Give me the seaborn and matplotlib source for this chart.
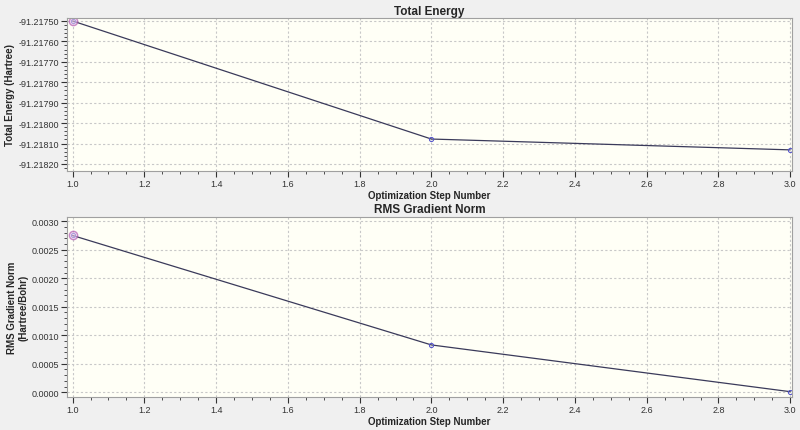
import matplotlib
matplotlib.use("Agg")
import matplotlib.pyplot as plt
import seaborn as sns
import pandas as pd
from matplotlib.ticker import MultipleLocator, FormatStrFormatter

steps = [1.0, 2.0, 3.0]
energy = [-91.21750, -91.218078, -91.218131]
rms_grad = [0.00275, 0.00083, 0.00001]

sns.set_style("white")
plt.rcParams['font.family'] = ['Liberation Sans', 'DejaVu Sans']

fig = plt.figure(figsize=(8, 4.31), dpi=100, facecolor="#f0f0f0")
ax1 = fig.add_axes([0.084, 0.601, 0.906, 0.355])
ax2 = fig.add_axes([0.084, 0.077, 0.906, 0.418])

df = pd.DataFrame({"step": steps, "energy": energy, "rms": rms_grad})

def style(ax, title, ylabel, ylim, ymaj, ymin, fmt):
    ax.set_facecolor("#fffff6")
    ax.set_xlim(0.985, 3.005)
    ax.set_ylim(*ylim)
    ax.xaxis.set_major_locator(MultipleLocator(0.2))
    ax.xaxis.set_minor_locator(MultipleLocator(0.05))
    ax.yaxis.set_major_locator(MultipleLocator(ymaj))
    ax.yaxis.set_minor_locator(MultipleLocator(ymin))
    ax.xaxis.set_major_formatter(FormatStrFormatter("%.1f"))
    ax.yaxis.set_major_formatter(FormatStrFormatter(fmt))
    ax.grid(True, which="major", linestyle=(0, (2, 2)), color="#c8c8c8", linewidth=0.8)
    ax.tick_params(which="both", direction="out", bottom=True, left=True, colors="#333333", labelsize=6.5, pad=2)
    ax.tick_params(which="major", length=4)
    ax.tick_params(which="minor", length=2.5)
    for s in ax.spines.values():
        s.set_color("#a0a0a0")
        s.set_linewidth(0.8)
    ax.set_title(title, fontsize=8.5, fontweight="bold", pad=3)
    ax.set_xlabel("Optimization Step Number", fontsize=7, fontweight="bold", labelpad=1)
    ax.set_ylabel(ylabel, fontsize=7, fontweight="bold", labelpad=2)

sns.lineplot(data=df, x="step", y="energy", ax=ax1, color="#3a3a5a", linewidth=0.9,
             marker="o", markersize=3, markerfacecolor="none", markeredgecolor="#5555cc")
ax1.plot(steps[:1], energy[:1], "o", markersize=6, markerfacecolor="#e8c8e8", markeredgecolor="#aa44aa", alpha=0.6)
style(ax1, "Total Energy", "Total Energy (Hartree)", (-91.2182343, -91.2174853), 0.0001, 0.00002, "%.5f")

sns.lineplot(data=df, x="step", y="rms", ax=ax2, color="#3a3a5a", linewidth=0.9,
             marker="o", markersize=3, markerfacecolor="none", markeredgecolor="#5555cc")
ax2.plot(steps[:1], rms_grad[:1], "o", markersize=6, markerfacecolor="#e8c8e8", markeredgecolor="#aa44aa", alpha=0.6)
style(ax2, "RMS Gradient Norm", "RMS Gradient Norm\n(Hartree/Bohr)", (-0.00008, 0.00308), 0.0005, 0.0001, "%.4f")

fig.savefig("out.png", dpi=100, facecolor=fig.get_facecolor())
